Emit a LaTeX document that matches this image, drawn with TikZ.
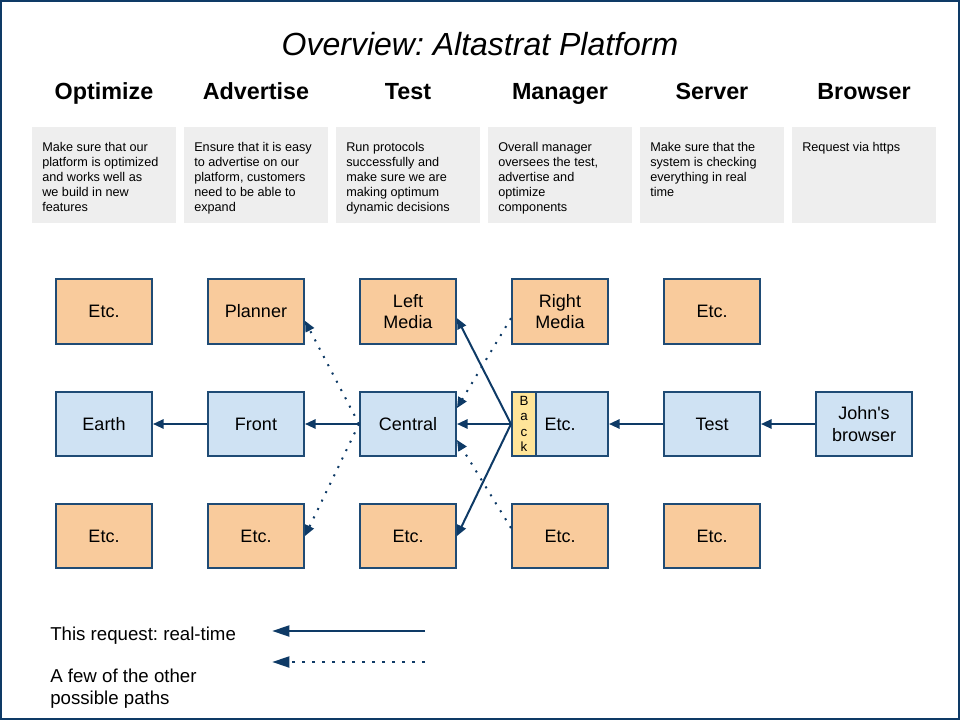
\documentclass[tikz,border=0pt]{standalone}
\usepackage{fontspec}
\setmainfont{Liberation Sans}
\usepackage{tikz}
\usetikzlibrary{positioning, arrows.meta, calc}
\usepackage{xcolor}
\definecolor{navy}{HTML}{0E3A66}
\definecolor{boxline}{HTML}{1F4B75}
\definecolor{peach}{HTML}{F9CB9C}
\definecolor{paleblue}{HTML}{CFE2F3}
\definecolor{backyellow}{HTML}{FFE599}
\definecolor{descgray}{HTML}{EEEEEE}
\frenchspacing

\begin{document}
\begin{tikzpicture}[x=0.75pt, y=-0.75pt,
  box/.style={draw=boxline, line width=1.5pt, minimum width=72pt, minimum height=48pt,
    inner sep=0pt, align=center, font=\fontsize{13.5}{16}\selectfont},
  obox/.style={box, fill=peach},
  bbox/.style={box, fill=paleblue},
  descbox/.style={fill=descgray, minimum width=108pt, minimum height=72pt, inner sep=0pt, anchor=north west},
  desctext/.style={anchor=north west, align=left, inner sep=0pt, font=\fontsize{9.5}{11.25}\selectfont},
  colhead/.style={anchor=base, font=\fontsize{17.5}{21}\selectfont\bfseries},
  real/.style={draw=navy, line width=1.5pt, -{Triangle[length=8pt, width=7pt]}},
  other/.style={real, dash pattern=on 1.5pt off 5.5pt},
  legtip/.style={line width=2.2pt, -{Triangle[length=13pt, width=8pt]}}
]
\useasboundingbox (0,0) rectangle (960,720);
\draw[navy, line width=3pt] (0,0) rectangle (960,720);

\node[font=\fontsize{24}{28}\selectfont\itshape] (title) at (480,44) {Overview: Altastrat Platform};

\node[colhead] (hopt) at (104,100) {Optimize};
\node[colhead] (hadv) at (256,100) {Advertise};
\node[colhead] (htest) at (408,100) {Test};
\node[colhead] (hmgr) at (560,100) {Manager};
\node[colhead] (hsrv) at (712,100) {Server};
\node[colhead] (hbrw) at (864,100) {Browser};

\node[descbox] (dopt) at (32,127) {};
\node[descbox] (dadv) at (184,127) {};
\node[descbox] (dtest) at (336,127) {};
\node[descbox] (dmgr) at (488,127) {};
\node[descbox] (dsrv) at (640,127) {};
\node[descbox] (dbrw) at (792,127) {};
\node[desctext] at ([xshift=7.5pt,yshift=-11pt]dopt.north west) {Make sure that our\\platform is optimized\\and works well as\\we build in new\\features};
\node[desctext] at ([xshift=7.5pt,yshift=-11pt]dadv.north west) {Ensure that it is easy\\to advertise on our\\platform, customers\\need to be able to\\expand};
\node[desctext] at ([xshift=7.5pt,yshift=-11pt]dtest.north west) {Run protocols\\successfully and\\make sure we are\\making optimum\\dynamic decisions};
\node[desctext] at ([xshift=7.5pt,yshift=-11pt]dmgr.north west) {Overall manager\\oversees the test,\\advertise and\\optimize\\components};
\node[desctext] at ([xshift=7.5pt,yshift=-11pt]dsrv.north west) {Make sure that the\\system is checking\\everything in real\\time};
\node[desctext] at ([xshift=7.5pt,yshift=-11pt]dbrw.north west) {Request via https};

\node[obox] (otop) at (104,311.5) {Etc.};
\node[obox] (planner) at (256,311.5) {Planner};
\node[obox] (lmedia) at (408,311.5) {Left\\Media};
\node[obox] (rmedia) at (560,311.5) {Right\\Media};
\node[obox] (stop) at (712,311.5) {Etc.};

\node[bbox] (earth) at (104,424) {Earth};
\node[bbox] (front) at (256,424) {Front};
\node[bbox] (central) at (408,424) {Central};
\node[bbox] (mmid) at (560,424) {Etc.};
\node[draw=boxline, fill=backyellow, line width=1.5pt, minimum width=18pt, minimum height=48pt,
  inner sep=0pt, anchor=west, align=center, font=\fontsize{10}{11.5}\selectfont] (back) at (mmid.west) {B\\a\\c\\k};
\node[bbox] (stest) at (712,424) {Test};
\node[bbox] (browser) at (864,424) {John\textquotesingle s\\browser};

\node[obox] (obot) at (104,536) {Etc.};
\node[obox] (abot) at (256,536) {Etc.};
\node[obox] (tbot) at (408,536) {Etc.};
\node[obox] (mbot) at (560,536) {Etc.};
\node[obox] (sbot) at (712,536) {Etc.};

\draw[real] (browser.west) -- (stest.east);
\draw[real] (stest.west) -- (mmid.east);
\draw[real] (back.west) -- (central.east);
\draw[real] (back.west) -- ([yshift=-5pt]lmedia.east);
\draw[real] (back.west) -- (tbot.east);
\draw[real] (central.west) -- (front.east);
\draw[real] (front.west) -- (earth.east);

\draw[other] ([yshift=-5pt]rmedia.west) -- ([yshift=12pt]central.east);
\draw[other] ([yshift=6pt]mbot.west) -- ([yshift=-12pt]central.east);
\draw[other] (central.west) -- ([yshift=-7pt]planner.east);
\draw[other] (central.west) -- (abot.east);

\node[anchor=west, inner sep=0pt, font=\fontsize{14}{16.5}\selectfont] (legreal) at (50,636) {This request: real-time};
\node[anchor=west, inner sep=0pt, align=left, font=\fontsize{14}{16.5}\selectfont] (legother) at (50,689) {A few of the other\\possible paths};
\coordinate (realfrom) at (425,631);
\coordinate (realto) at (272,631);
\coordinate (otherfrom) at (425,662);
\coordinate (otherto) at (272,662);
\draw[real, legtip] (realfrom) -- (realto);
\draw[other, legtip, dash pattern=on 2pt off 5.5pt] (otherfrom) -- (otherto);
\end{tikzpicture}
\end{document}
